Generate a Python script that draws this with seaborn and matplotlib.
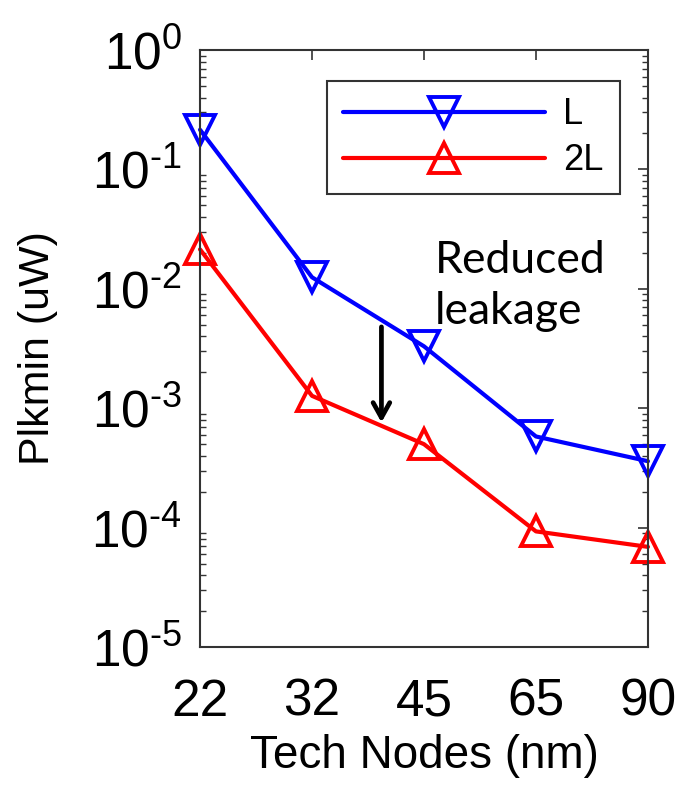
import numpy as np
import pandas as pd
import matplotlib
matplotlib.use("Agg")
import matplotlib.pyplot as plt
import matplotlib.ticker as mticker
import seaborn as sns

# Technology nodes (nm) and minimum leakage power (uW)
nodes = ["22", "32", "45", "65", "90"]
plk_L = [0.215, 0.0125, 0.0033, 0.00058, 0.00036]
plk_2L = [0.0214, 0.00127, 0.00050, 0.000093, 0.000069]
series_names = ["L", "2L"]
y_ticks_exp = [0, -1, -2, -3, -4, -5]

sns.set_theme(style="white")
plt.rcParams["font.family"] = ["Liberation Sans", "DejaVu Sans"]
plt.rcParams["mathtext.fontset"] = "custom"
plt.rcParams["mathtext.rm"] = "Liberation Sans"
plt.rcParams["text.color"] = "black"
plt.rcParams["axes.labelcolor"] = "black"

df = pd.DataFrame({
    "node": nodes * 2,
    "plk": plk_L + plk_2L,
    "series": [series_names[0]] * len(nodes) + [series_names[1]] * len(nodes),
})

fig = plt.figure(figsize=(6.81, 7.88), dpi=100)
ax = fig.add_axes([0.2937, 0.1789, 0.6578, 0.7576])

styles = {"L": ("#0000ff", "v"), "2L": ("#ff0000", "^")}
for name in series_names:
    color, marker = styles[name]
    sns.lineplot(data=df[df["series"] == name], x="node", y="plk", ax=ax,
                 color=color, marker=marker, markersize=21,
                 markerfacecolor="none", markeredgecolor=color,
                 markeredgewidth=2.8, linewidth=3, label=name,
                 clip_on=False, sort=False)

ax.set_yscale("log")
ax.set_ylim(1e-5, 1)
ax.set_xlim(0, len(nodes) - 1)


def exp_label(k):
    sign = r"\text{-}" if k < 0 else ""
    return r"$\mathdefault{10^{%s%d}}$" % (sign, abs(k))


ax.yaxis.set_major_locator(mticker.FixedLocator([10.0 ** k for k in y_ticks_exp]))
ax.set_yticklabels([exp_label(k) for k in y_ticks_exp])
ax.yaxis.set_minor_locator(mticker.LogLocator(base=10, subs=np.arange(2, 10), numticks=20))
ax.yaxis.set_minor_formatter(mticker.NullFormatter())

ax.tick_params(axis="both", which="major", direction="in", length=7, width=1.2,
               labelsize=37, top=True, right=True, colors="#333333",
               labelcolor="black")
ax.tick_params(axis="x", which="major", pad=22)
ax.tick_params(axis="y", which="major", pad=13)
ax.tick_params(axis="y", which="minor", direction="in", length=4, width=1,
               left=True, right=True, colors="#333333")

ax.set_xlabel("Tech Nodes (nm)", fontsize=33, color="black")
ax.xaxis.set_label_coords(0.5, -0.146)
ax.set_ylabel("Plkmin (uW)", fontsize=31, color="black")
ax.yaxis.set_label_coords(-0.316, 0.5)

for sp in ax.spines.values():
    sp.set_color("#333333")
    sp.set_linewidth(1.5)

leg = ax.legend(loc="upper right", bbox_to_anchor=(0.937, 0.948), fontsize=26,
                frameon=True, fancybox=False, handlelength=5.6,
                borderpad=0.45, labelspacing=0.3, handletextpad=0.5,
                borderaxespad=0)
leg.get_frame().set_edgecolor("black")
leg.get_frame().set_linewidth(1.5)

ax.annotate("", xy=(1.62, 7.6e-4), xytext=(1.62, 4.8e-3),
            arrowprops=dict(arrowstyle="->,head_length=0.9,head_width=0.5",
                            color="black", lw=3.4, shrinkA=0, shrinkB=0))
ax.text(2.1, 0.0105, "Reduced\nleakage", fontsize=32, family=["Lato", "DejaVu Sans"],
        color="black", ha="left", va="center", linespacing=1.3)

fig.savefig("out.png", dpi=100)
